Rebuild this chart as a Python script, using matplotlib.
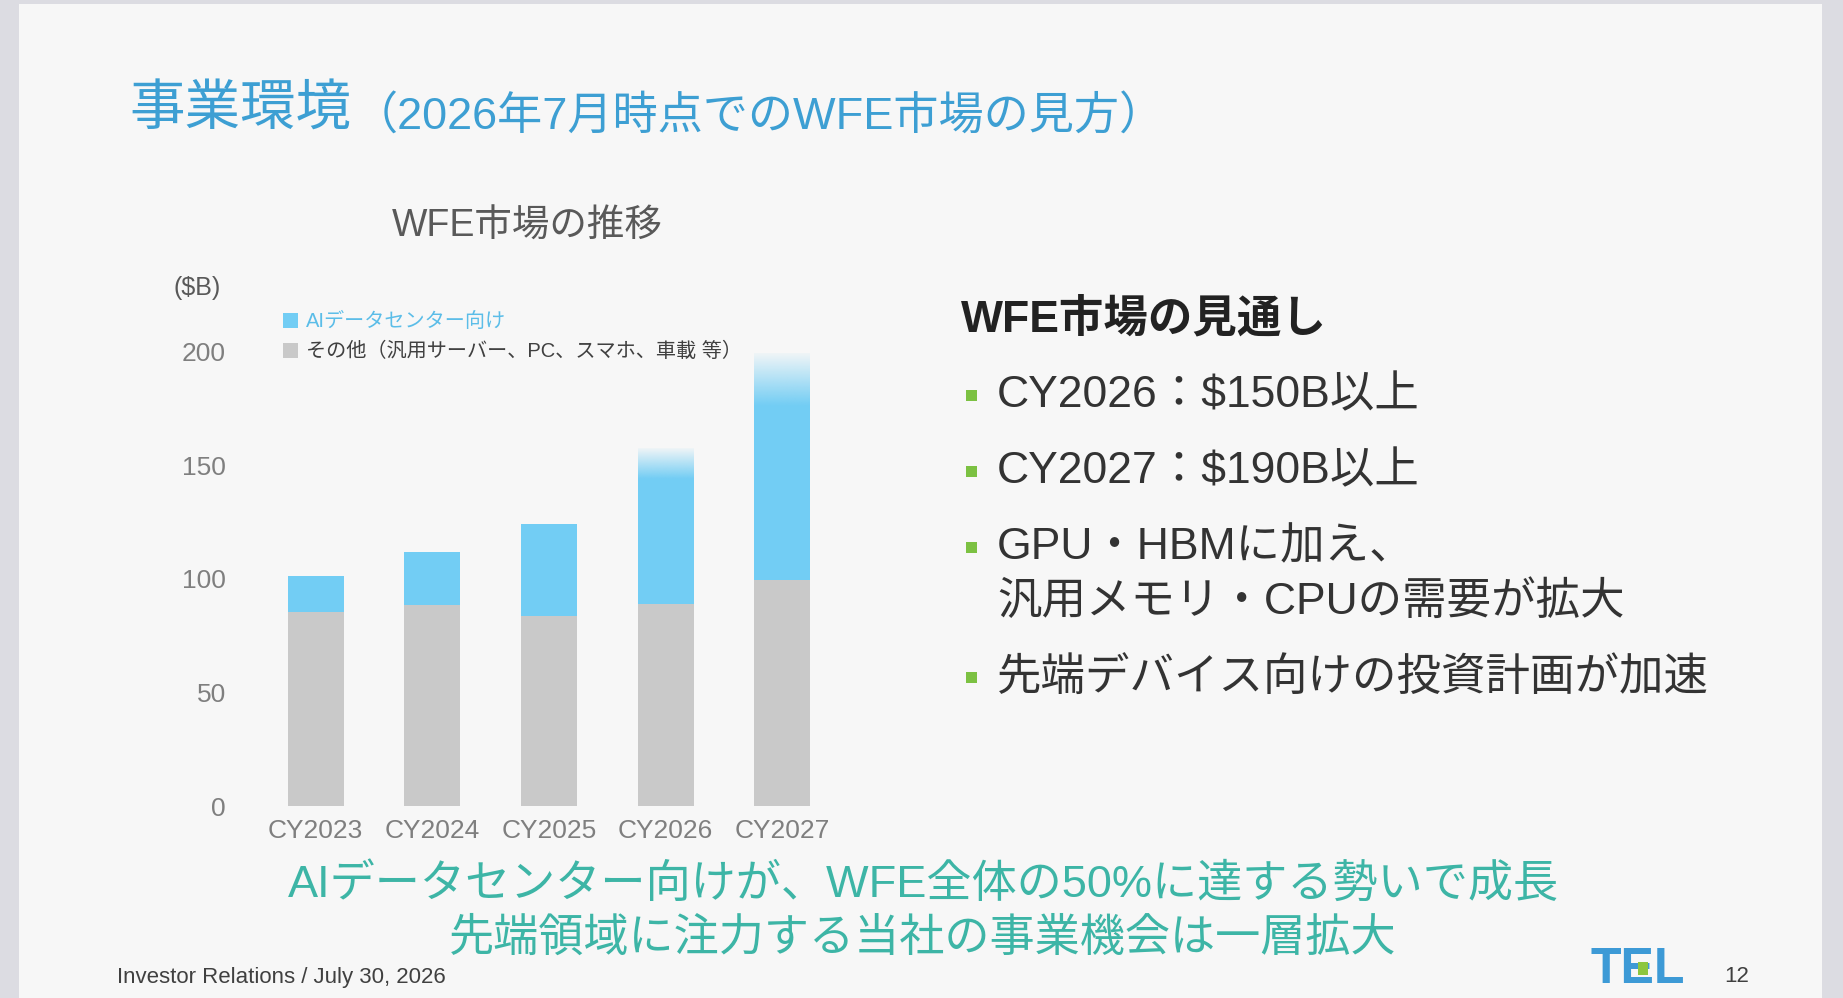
import numpy as np
import matplotlib
matplotlib.use("Agg")
import matplotlib.pyplot as plt
from matplotlib.patches import Rectangle
from matplotlib.colors import to_rgb

plt.rcParams['font.family'] = ['Liberation Sans', 'Noto Sans CJK JP', 'DejaVu Sans']

# data ($B)
years = ["CY2023", "CY2024", "CY2025", "CY2026", "CY2027"]
other = [85.5, 88.5, 83.5, 89, 99.5]
ai_dc = [16, 23.5, 40.5, 68.5, 99.5]
ai_fade = [0, 0, 0, 13.5, 23]   # faded (uncertain) top part of the AI segment
yticks = [0, 50, 100, 150, 200]

legend_labels = ["AIデータセンター向け", "その他（汎用サーバー、PC、スマホ、車載 等）"]
bullets = [["CY2026：$150B以上"], ["CY2027：$190B以上"],
           ["GPU・HBMに加え、", "汎用メモリ・CPUの需要が拡大"],
           ["先端デバイス向けの投資計画が加速"]]

BLUE = "#72cdf4"
GRAY = "#c9c9c9"
SLIDE = "#f7f7f7"

W, H = 1843, 998
fig = plt.figure(figsize=(W / 100, H / 100), dpi=100, facecolor="#dcdce2")

def px(x, y):
    return x / W, 1 - y / H

# slide sheet
fig.patches.append(Rectangle(px(19, 998), (1822 - 19) / W, (998 - 4) / H,
                             transform=fig.transFigure, facecolor=SLIDE,
                             edgecolor="none", zorder=-10))

# title
fig.text(*px(129, 112), "事業環境", fontsize=40, color="#3d9fd3", va="center")
fig.text(*px(353, 116), "（2026年7月時点でのWFE市場の見方）", fontsize=32.5,
         color="#3d9fd3", va="center")

# chart
ax_l, ax_r, ax_b, ax_t = 240, 840.5, 806, 340.6
ax = fig.add_axes([ax_l / W, 1 - ax_b / H, (ax_r - ax_l) / W, (ax_b - ax_t) / H])
ax.set_facecolor("none")
x = np.arange(len(years))
bw = 0.48
b1 = ax.bar(x, other, bw, color=GRAY, zorder=2)
solid = [a - f for a, f in zip(ai_dc, ai_fade)]
b2 = ax.bar(x, solid, bw, bottom=other, color=BLUE, zorder=2)

rgb = to_rgb(BLUE)
grad = np.zeros((64, 1, 4))
grad[:, 0, :3] = rgb
grad[:, 0, 3] = np.linspace(1, 0.06, 64)
for i in range(len(years)):
    if ai_fade[i] > 0:
        lo = other[i] + solid[i]
        hi = other[i] + ai_dc[i]
        ax.imshow(grad, extent=(x[i] - bw / 2, x[i] + bw / 2, lo, hi),
                  origin="lower", aspect="auto", zorder=2, interpolation="bilinear")

ax.set_xlim(-0.648, 4.5)
ax.set_ylim(0, 205)
ax.set_yticks(yticks)
ax.set_xticks(x)
ax.set_xticklabels(years)
for s in ax.spines.values():
    s.set_visible(False)
ax.tick_params(length=0, labelsize=19, colors="#7f7f7f")
ax.tick_params(axis="y", pad=10)
ax.tick_params(axis="x", pad=9)

leg = ax.legend([b2, b1], legend_labels, loc="upper left",
                bbox_to_anchor=px(273, 302), bbox_transform=fig.transFigure,
                frameon=False, fontsize=14.5, handlelength=0.75, handleheight=0.75,
                handletextpad=0.4, labelspacing=0.55, borderpad=0)
leg.get_texts()[0].set_color("#5bbde8")
leg.get_texts()[1].set_color("#404040")

fig.text(*px(527, 227), "WFE市場の推移", fontsize=27, color="#595959",
         ha="center", va="center")
fig.text(*px(197, 288), "($B)", fontsize=18, color="#595959",
         ha="center", va="center")

# right panel
fig.text(*px(961, 319), "WFE市場の見通し", fontsize=32, weight="bold",
         color="#222222", va="center")
bullet_y = [396, 472, 548, 678]
for yy, lines in zip(bullet_y, bullets):
    fig.patches.append(Rectangle(px(966, yy + 5), 11 / W, 11 / H,
                                 transform=fig.transFigure, facecolor="#7cc142",
                                 edgecolor="none"))
    for k, line in enumerate(lines):
        fig.text(*px(997, yy + 54 * k), line, fontsize=32, color="#333333",
                 va="center")

# key message
fig.text(*px(923, 884), "AIデータセンター向けが、WFE全体の50%に達する勢いで成長",
         fontsize=32.5, color="#3db5a6", ha="center", va="center")
fig.text(*px(923, 939), "先端領域に注力する当社の事業機会は一層拡大",
         fontsize=32.5, color="#3db5a6", ha="center", va="center")

# footer
fig.text(*px(117, 978), "Investor Relations / July 30, 2026", fontsize=16,
         color="#404040", va="center")
fig.text(*px(1737, 977), "12", fontsize=16, color="#404040", ha="center",
         va="center")
fig.text(*px(1638, 970), "TEL", fontsize=36, weight="bold", color="#3d9ad6",
         ha="center", va="center")
fig.patches.append(Rectangle(px(1638, 975), 10 / W, 13 / H,
                             transform=fig.transFigure, facecolor="#8cc63f",
                             edgecolor="none", zorder=5))

fig.savefig("out.png", dpi=100, facecolor=fig.get_facecolor())
